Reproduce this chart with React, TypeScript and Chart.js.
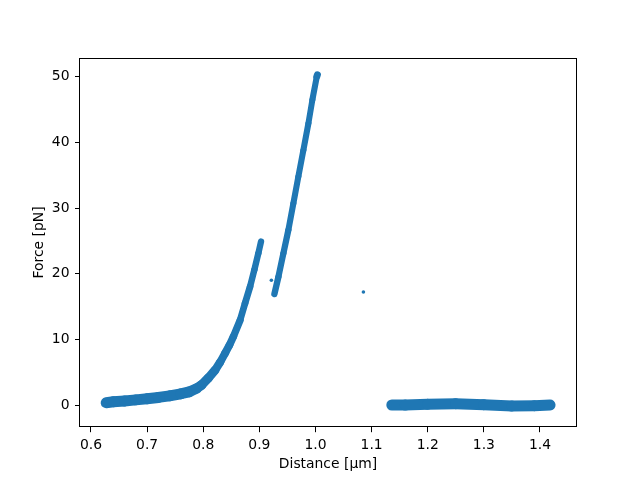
import React, { useEffect, useRef } from "react";
import { Chart, registerables } from "chart.js";

Chart.register(...registerables);

// ---- data ----
const loadingX = [0.627, 0.64, 0.66, 0.68, 0.7, 0.72, 0.74, 0.76, 0.775, 0.788, 0.797, 0.809, 0.821, 0.83, 0.839, 0.8465, 0.8537, 0.8656, 0.8745, 0.8834, 0.8911, 0.8982, 0.903];
const loadingY = [0.35, 0.5, 0.62, 0.78, 0.95, 1.15, 1.4, 1.7, 2.0, 2.5, 3.05, 4.1, 5.3, 6.5, 7.9, 9.1, 10.4, 12.9, 15.5, 18.0, 20.6, 23.1, 24.9];
const stretchX = [0.9268, 0.9339, 0.9428, 0.9517, 0.9606, 0.9695, 0.9784, 0.9874, 0.9945, 1.0023, 1.0035];
const stretchY = [16.9, 19.5, 23.1, 26.65, 30.7, 34.8, 38.8, 42.9, 46.5, 50.0, 50.3];
const baselineX = [1.136, 1.16, 1.2, 1.25, 1.3, 1.35, 1.39, 1.418];
const baselineY = [0.0, 0.0, 0.1, 0.2, 0.05, -0.15, -0.1, 0.0];
const strayX = [0.9214, 1.0854];
const strayY = [19.0, 17.2];
const xTicks = [0.6, 0.7, 0.8, 0.9, 1.0, 1.1, 1.2, 1.3, 1.4];
const yTicks = [0, 10, 20, 30, 40, 50];

const X_MIN = 0.5804;
const X_MAX = 1.4642;
const Y_MIN = -3.38;
const Y_MAX = 52.91;

const BLUE = "#1f77b4";
const FONT = "'DejaVu Sans', sans-serif";

const toPts = (xs: number[], ys: number[]) => xs.map((x, i) => ({ x, y: ys[i] }));

const slopeWidth = (ctx: any) => {
  const dx = ctx.p1.x - ctx.p0.x;
  const dy = ctx.p1.y - ctx.p0.y;
  const c = Math.abs(dx) / (Math.hypot(dx, dy) || 1);
  return 5 + 6 * c;
};

const framePlugin = {
  id: "frame",
  afterDraw(chart: any) {
    const { ctx, chartArea } = chart;
    const { left, top, right, bottom } = chartArea;
    ctx.save();
    ctx.strokeStyle = "#000";
    ctx.lineWidth = 1;
    ctx.strokeRect(Math.round(left) - 0.5, Math.round(top) + 0.5, Math.round(right) - Math.round(left) + 1, Math.round(bottom) - Math.round(top) - 1);
    ctx.restore();
  },
};

export default function App() {
  const ref = useRef<HTMLCanvasElement | null>(null);

  useEffect(() => {
    document.body.style.margin = "0";
    const canvas = ref.current;
    if (!canvas) return;
    const lineDs = (xs: number[], ys: number[]) => ({
      data: toPts(xs, ys),
      showLine: true,
      pointRadius: 0,
      borderColor: BLUE,
      backgroundColor: BLUE,
      borderCapStyle: "round" as const,
      borderJoinStyle: "round" as const,
      borderWidth: 8,
      segment: { borderWidth: slopeWidth },
      fill: false,
    });
    const chart = new Chart(canvas, {
      type: "scatter",
      data: {
        datasets: [
          lineDs(loadingX, loadingY),
          lineDs(stretchX, stretchY),
          lineDs(baselineX, baselineY),
          {
            data: toPts(strayX, strayY),
            showLine: false,
            pointRadius: 1.8,
            borderWidth: 0,
            backgroundColor: BLUE,
            borderColor: BLUE,
          },
        ],
      },
      options: {
        responsive: false,
        animation: false,
        events: [],
        layout: { padding: { left: 0, top: 57.6, right: 64, bottom: 0 } },
        plugins: { legend: { display: false }, tooltip: { enabled: false } },
        scales: {
          x: {
            type: "linear",
            min: X_MIN,
            max: X_MAX,
            afterBuildTicks: (s: any) => {
              s.ticks = xTicks.map((v) => ({ value: v }));
            },
            afterFit: (s: any) => {
              s.height = 52.8;
            },
            grid: { drawOnChartArea: false, drawTicks: true, tickLength: 5, tickColor: "#000", tickWidth: 1 },
            border: { display: false },
            ticks: {
              color: "#000",
              padding: 5,
              maxRotation: 0,
              font: { family: FONT, size: 13.9 },
              callback: (v: any) => Number(v).toFixed(1),
            },
            title: {
              display: true,
              text: "Distance [μm]",
              color: "#000",
              font: { family: FONT, size: 13.9 },
              padding: { top: 0, bottom: 7.7 },
            },
          },
          y: {
            type: "linear",
            min: Y_MIN,
            max: Y_MAX,
            afterBuildTicks: (s: any) => {
              s.ticks = yTicks.map((v) => ({ value: v }));
            },
            afterFit: (s: any) => {
              s.width = 80;
            },
            grid: { drawOnChartArea: false, drawTicks: true, tickLength: 5, tickColor: "#000", tickWidth: 1 },
            border: { display: false },
            ticks: {
              color: "#000",
              padding: 5.5,
              font: { family: FONT, size: 13.9 },
              callback: (v: any) => String(v),
            },
            title: {
              display: true,
              text: "Force [pN]",
              color: "#000",
              font: { family: FONT, size: 13.9 },
              padding: { top: 30.7, bottom: 0 },
            },
          },
        },
      },
      plugins: [framePlugin],
    });
    return () => chart.destroy();
  }, []);

  return (
    <div style={{ width: 640, height: 480, background: "#fff" }}>
      <canvas ref={ref} width={640} height={480} style={{ display: "block" }} />
    </div>
  );
}
